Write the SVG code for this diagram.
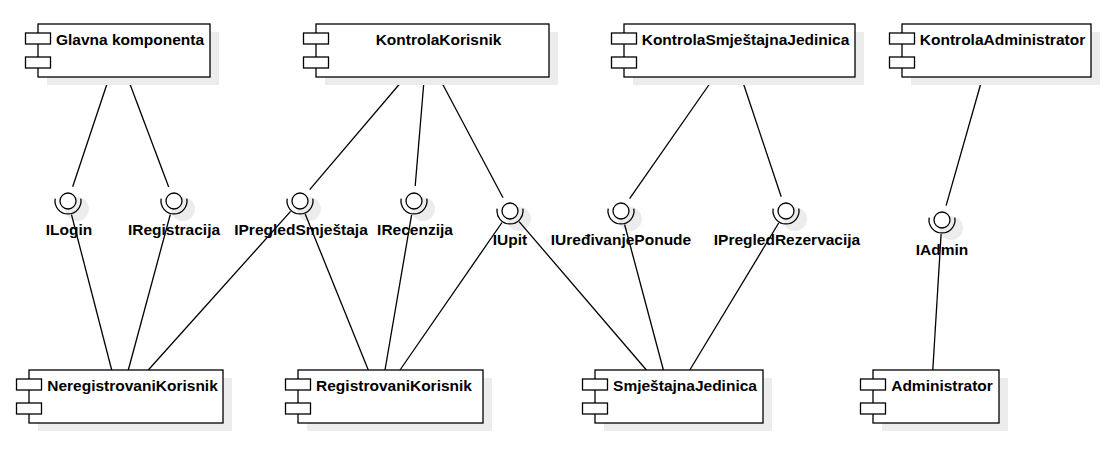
<svg xmlns="http://www.w3.org/2000/svg" width="1113" height="451" viewBox="0 0 1113 451">
<style>
.box{fill:#fff;stroke:#000;stroke-width:1.3}
.jet{fill:#fff;stroke:#000;stroke-width:1.3}
.sh{fill:#ececec;stroke:none}
.ball{fill:#fff;stroke:#000;stroke-width:1.3}
.arc{fill:none;stroke:#000;stroke-width:1.3}
.conn line{stroke:#000;stroke-width:1.3}
text{font-family:"Liberation Sans",Arial,sans-serif;font-weight:bold;font-size:15.5px;fill:#000}
.lbl{text-anchor:middle}
</style>
<rect width="1113" height="451" fill="#fff"/>

<!-- interface shadows -->
<g id="shadows">
<circle class="sh" cx="77" cy="209" r="12"/>
<circle class="sh" cx="183" cy="209" r="12"/>
<circle class="sh" cx="309" cy="209" r="12"/>
<circle class="sh" cx="423" cy="209" r="12"/>
<circle class="sh" cx="519" cy="219" r="12"/>
<circle class="sh" cx="630" cy="219" r="12"/>
<circle class="sh" cx="795" cy="219" r="12"/>
<circle class="sh" cx="951" cy="228" r="12"/>
</g>

<g id="connectors" class="conn">
<line x1="109.3" y1="77" x2="72.7" y2="186.8"/>
<line x1="127.3" y1="77" x2="168.7" y2="187"/>
<line x1="405.5" y1="77" x2="309.7" y2="189.6"/>
<line x1="424.3" y1="77" x2="415.2" y2="186"/>
<line x1="438.8" y1="77" x2="503" y2="197.8"/>
<line x1="714.4" y1="77" x2="629.6" y2="198.7"/>
<line x1="741.2" y1="77" x2="781.2" y2="196.8"/>
<line x1="982.7" y1="77" x2="946.1" y2="205.6"/>
<line x1="71.5" y1="214.6" x2="111.7" y2="370"/>
<line x1="170.3" y1="214.5" x2="128.3" y2="370"/>
<line x1="290.6" y1="211.4" x2="148.3" y2="370"/>
<line x1="305.2" y1="214" x2="368.3" y2="370"/>
<line x1="411.6" y1="214.8" x2="385" y2="370"/>
<line x1="502" y1="222.5" x2="400" y2="370"/>
<line x1="519.1" y1="221.6" x2="646.4" y2="370"/>
<line x1="624.6" y1="224.5" x2="663.4" y2="370"/>
<line x1="778.7" y1="223" x2="689.8" y2="370"/>
<line x1="941.1" y1="234" x2="932.8" y2="370"/>
</g>

<!-- components -->
<g id="glavna">
<rect class="sh" x="47" y="32" width="172" height="53"/>
<rect class="box" x="38" y="24" width="172" height="53"/>
<rect class="jet" x="25.5" y="33" width="25" height="11"/>
<rect class="jet" x="25.5" y="57" width="25" height="11"/>
<text class="lbl" x="130" y="44.5">Glavna komponenta</text>
</g>
<g id="kontrolaKorisnik">
<rect class="sh" x="325" y="32" width="233" height="53"/>
<rect class="box" x="316" y="24" width="233" height="53"/>
<rect class="jet" x="303.5" y="33" width="25" height="11"/>
<rect class="jet" x="303.5" y="57" width="25" height="11"/>
<text class="lbl" x="438.5" y="44.5">KontrolaKorisnik</text>
</g>
<g id="kontrolaSmjestajnaJedinica">
<rect class="sh" x="633" y="32" width="231" height="53"/>
<rect class="box" x="624" y="24" width="231" height="53"/>
<rect class="jet" x="611.5" y="33" width="25" height="11"/>
<rect class="jet" x="611.5" y="57" width="25" height="11"/>
<text class="lbl" x="745.5" y="44.5">KontrolaSmještajnaJedinica</text>
</g>
<g id="kontrolaAdministrator">
<rect class="sh" x="911" y="32" width="189" height="53"/>
<rect class="box" x="902" y="24" width="189" height="53"/>
<rect class="jet" x="889.5" y="33" width="25" height="11"/>
<rect class="jet" x="889.5" y="57" width="25" height="11"/>
<text class="lbl" x="1002.5" y="44.5">KontrolaAdministrator</text>
</g>

<g id="neregistrovaniKorisnik">
<rect class="sh" x="38" y="378" width="194" height="53"/>
<rect class="box" x="29" y="370" width="194" height="53"/>
<rect class="jet" x="16.5" y="379" width="25" height="11"/>
<rect class="jet" x="16.5" y="403" width="25" height="11"/>
<text class="lbl" x="132.5" y="390.5">NeregistrovaniKorisnik</text>
</g>
<g id="registrovaniKorisnik">
<rect class="sh" x="307" y="378" width="185" height="53"/>
<rect class="box" x="298" y="370" width="185" height="53"/>
<rect class="jet" x="285.5" y="379" width="25" height="11"/>
<rect class="jet" x="285.5" y="403" width="25" height="11"/>
<text class="lbl" x="394" y="390.5">RegistrovaniKorisnik</text>
</g>
<g id="smjestajnaJedinica">
<rect class="sh" x="604" y="378" width="168" height="53"/>
<rect class="box" x="595" y="370" width="168" height="53"/>
<rect class="jet" x="582.5" y="379" width="25" height="11"/>
<rect class="jet" x="582.5" y="403" width="25" height="11"/>
<text class="lbl" x="685" y="390.5">SmještajnaJedinica</text>
</g>
<g id="administrator">
<rect class="sh" x="882" y="378" width="126" height="53"/>
<rect class="box" x="873" y="370" width="126" height="53"/>
<rect class="jet" x="860.5" y="379" width="25" height="11"/>
<rect class="jet" x="860.5" y="403" width="25" height="11"/>
<text class="lbl" x="942" y="390.5">Administrator</text>
</g>

<!-- interfaces -->
<g id="iLogin">
<circle class="ball" cx="68" cy="201" r="8"/>
<path class="arc" d="M80.8 198.7 A13 13 0 1 1 55.2 198.7"/>
<text class="lbl" x="69" y="234.5">ILogin</text>
</g>
<g id="iRegistracija">
<circle class="ball" cx="174" cy="201" r="8"/>
<path class="arc" d="M186.8 198.7 A13 13 0 1 1 161.2 198.7"/>
<text class="lbl" x="174" y="234.5">IRegistracija</text>
</g>
<g id="iPregledSmjestaja">
<circle class="ball" cx="300" cy="201" r="8"/>
<path class="arc" d="M312.8 198.7 A13 13 0 1 1 287.2 198.7"/>
<text class="lbl" x="301" y="234.5">IPregledSmještaja</text>
</g>
<g id="iRecenzija">
<circle class="ball" cx="414" cy="201" r="8"/>
<path class="arc" d="M426.8 198.7 A13 13 0 1 1 401.2 198.7"/>
<text class="lbl" x="415" y="234.5">IRecenzija</text>
</g>
<g id="iUpit">
<circle class="ball" cx="510" cy="211" r="8"/>
<path class="arc" d="M522.8 208.7 A13 13 0 1 1 497.2 208.7"/>
<text class="lbl" x="510" y="244.5">IUpit</text>
</g>
<g id="iUredjivanjePonude">
<circle class="ball" cx="621" cy="211" r="8"/>
<path class="arc" d="M633.8 208.7 A13 13 0 1 1 608.2 208.7"/>
<text class="lbl" x="621" y="244.5">IUređivanjePonude</text>
</g>
<g id="iPregledRezervacija">
<circle class="ball" cx="786" cy="211" r="8"/>
<path class="arc" d="M798.8 208.7 A13 13 0 1 1 773.2 208.7"/>
<text class="lbl" x="787" y="244.5">IPregledRezervacija</text>
</g>
<g id="iAdmin">
<circle class="ball" cx="942" cy="220" r="8"/>
<path class="arc" d="M954.8 217.7 A13 13 0 1 1 929.2 217.7"/>
<text class="lbl" x="942" y="254.5">IAdmin</text>
</g>
</svg>
